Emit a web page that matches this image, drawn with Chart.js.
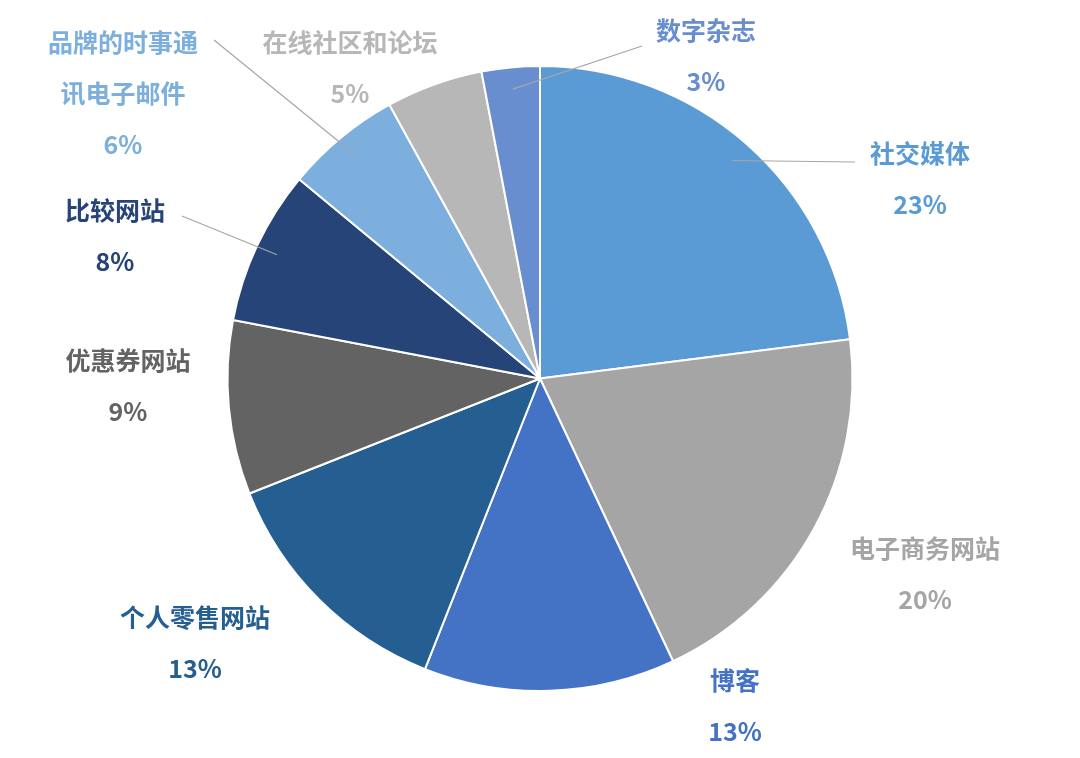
<!DOCTYPE html>
<html>
<head>
<meta charset="utf-8">
<script src="https://cdn.jsdelivr.net/npm/chart.js@4"></script>
<style>
  html, body { margin: 0; padding: 0; background: #fff; }
  #wrap { width: 1080px; height: 758px; }
</style>
</head>
<body>
<div id="wrap"><canvas id="pieChart"></canvas></div>
<script>
const categories = ["社交媒体", "电子商务网站", "博客", "个人零售网站", "优惠券网站", "比较网站", "品牌的时事通讯电子邮件", "在线社区和论坛", "数字杂志"];
const shares = [23, 20, 13, 13, 9, 8, 6, 5, 3];
const sliceColors = ["#5B9BD5", "#A5A5A5", "#4472C4", "#255E91", "#636363", "#264478", "#7CAFDD", "#B7B7B7", "#698ED0"];

// label text lines and where they sit on the page
const labelLines = [
  ["社交媒体"], ["电子商务网站"], ["博客"], ["个人零售网站"], ["优惠券网站"],
  ["比较网站"], ["品牌的时事通", "讯电子邮件"], ["在线社区和论坛"], ["数字杂志"]
];
const labelPos = [
  [920, 153], [925, 548], [735, 680], [195, 617], [128, 360],
  [115, 210], [123, 42], [350, 42], [706, 30]
];
// leader line start (on label side); null = no leader
const leaderFrom = [
  [855, 162], null, null, null, null,
  [182, 216], [214, 40], null, [642, 46]
];

const outsideLabels = {
  id: "outsideLabels",
  afterDraw(chart) {
    const ctx = chart.ctx;
    const arcs = chart.getDatasetMeta(0).data;
    ctx.save();
    arcs.forEach((arc, i) => {
      const color = sliceColors[i];
      if (leaderFrom[i]) {
        const mid = (arc.startAngle + arc.endAngle) / 2;
        const r = arc.outerRadius * 0.93;
        ctx.strokeStyle = "#A6A6A6";
        ctx.lineWidth = 1.2;
        ctx.beginPath();
        ctx.moveTo(leaderFrom[i][0], leaderFrom[i][1]);
        ctx.lineTo(arc.x + Math.cos(mid) * r, arc.y + Math.sin(mid) * r);
        ctx.stroke();
      }
      ctx.fillStyle = color;
      ctx.font = "bold 25px 'Noto Sans CJK SC', sans-serif";
      ctx.textAlign = "center";
      ctx.textBaseline = "middle";
      const [x, y] = labelPos[i];
      const lines = labelLines[i].concat([shares[i] + "%"]);
      lines.forEach((t, k) => ctx.fillText(t, x, y + k * 51));
    });
    ctx.restore();
  }
};

new Chart(document.getElementById("pieChart").getContext("2d"), {
  type: "pie",
  data: {
    labels: categories,
    datasets: [{
      data: shares,
      backgroundColor: sliceColors,
      borderColor: "#ffffff",
      borderWidth: 2
    }]
  },
  options: {
    responsive: true,
    maintainAspectRatio: false,
    animation: false,
    layout: { padding: { top: 65, bottom: 66 } },
    plugins: {
      legend: { display: false },
      tooltip: { enabled: false }
    }
  },
  plugins: [outsideLabels]
});
</script>
</body>
</html>
